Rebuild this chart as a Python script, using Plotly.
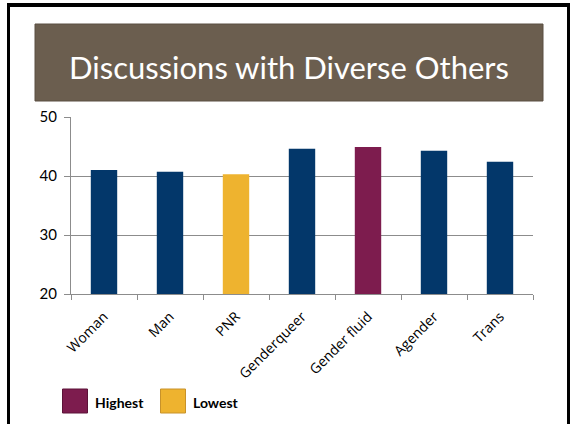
import plotly.graph_objects as go

categories = ["Woman", "Man", "PNR", "Genderqueer", "Gender fluid", "Agender", "Trans"]
values = [41.0, 40.7, 40.3, 44.6, 44.9, 44.3, 42.4]
bar_colors = ["#03376a", "#03376a", "#eeb32f", "#03376a", "#7d1c4e", "#03376a", "#03376a"]
y_ticks = [20, 30, 40, 50]
title_text = "Discussions with Diverse Others"
legend_labels = ["Highest", "Lowest"]
legend_colors = ["#7d1c4e", "#eeb32f"]
legend_borders = ["#5c1238", "#c8922a"]

W, H = 570, 424
L, R, T, B = 71, 533, 117, 294


def px(x):
    return (x - L) / (R - L)


def py(y):
    return (B - y) / (B - T)


fig = go.Figure()
fig.add_trace(go.Bar(
    x=categories, y=values,
    marker=dict(color=bar_colors, line=dict(width=0)),
    width=0.4, showlegend=False, hoverinfo="skip",
))

shapes = []
# slide border
shapes.append(dict(type="rect", xref="paper", yref="paper", x0=px(7), x1=px(10), y0=py(424), y1=py(3),
                   fillcolor="black", line=dict(width=0), layer="above"))
shapes.append(dict(type="rect", xref="paper", yref="paper", x0=px(7), x1=px(570), y0=py(7), y1=py(3),
                   fillcolor="black", line=dict(width=0), layer="above"))
shapes.append(dict(type="rect", xref="paper", yref="paper", x0=px(567), x1=px(570), y0=py(424), y1=py(3),
                   fillcolor="black", line=dict(width=0), layer="above"))
# title box
shapes.append(dict(type="rect", xref="paper", yref="paper", x0=px(35), x1=px(543), y0=py(101), y1=py(24),
                   fillcolor="#6b5e4f", line=dict(color="#5a4e42", width=1), layer="below"))

annotations = [dict(text=title_text, xref="paper", yref="paper", x=px(289), y=py(67),
                    xanchor="center", yanchor="middle", showarrow=False,
                    font=dict(family="Lato", size=31, color="white"))]

# legend
sq = [(62.5, 87.5, 93), (160.5, 185.5, 191)]
for (x0, x1, tx), lab, col, bc in zip(sq, legend_labels, legend_colors, legend_borders):
    shapes.append(dict(type="rect", xref="paper", yref="paper", x0=px(x0), x1=px(x1), y0=py(413), y1=py(389),
                       fillcolor=col, line=dict(color=bc, width=1)))
    annotations.append(dict(text="<b>" + lab + "</b>", xref="paper", yref="paper", x=px(tx), y=py(402),
                            xanchor="left", yanchor="middle", showarrow=False,
                            font=dict(family="Lato", size=14, color="black")))

fig.update_layout(
    width=W, height=H,
    margin=dict(l=L, r=W - R, t=T, b=H - B, pad=0),
    paper_bgcolor="white", plot_bgcolor="white",
    shapes=shapes, annotations=annotations,
    font=dict(family="Lato", size=14, color="black"),
    bargap=0.6,
)
fig.update_xaxes(
    type="category", tickangle=-45, showline=True, linecolor="#8c8c8c", linewidth=1,
    ticks="outside", tickson="boundaries", ticklen=5, tickcolor="#8c8c8c",
    showgrid=False, tickfont=dict(family="Open Sans", size=14, color="black"),
    ticklabelstandoff=8,
)
fig.update_yaxes(
    range=[20, 50], tickvals=y_ticks, showline=True, linecolor="#8c8c8c", linewidth=1,
    ticks="outside", ticklen=6, tickcolor="#8c8c8c", showgrid=True, gridcolor="#8c8c8c",
    gridwidth=1, zeroline=False, tickfont=dict(family="Lato", size=15, color="black"),
    ticklabelstandoff=4,
)

fig.write_html("out.html", config={"displayModeBar": False, "staticPlot": True},
               post_script="document.body.style.margin='0';document.body.style.overflow='hidden';")
